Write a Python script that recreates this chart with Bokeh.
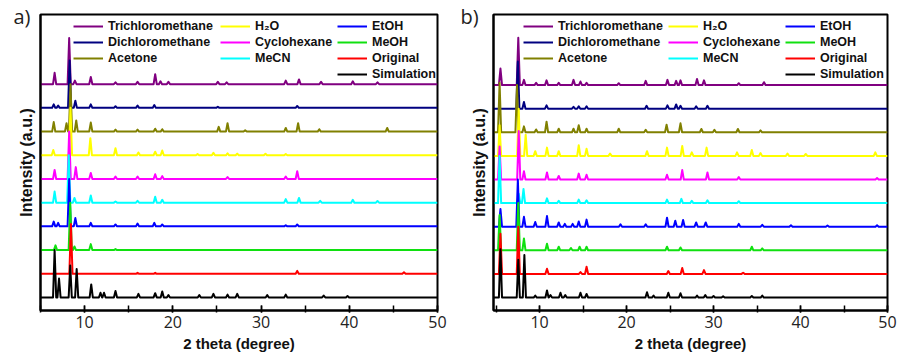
from bokeh.plotting import figure
from bokeh.layouts import row
from bokeh.models import (Legend, LegendItem, FixedTicker,
                          SingleIntervalTicker, Range1d)
from bokeh.embed import file_html
from bokeh.resources import INLINE

# ---------------- data (2theta, relative intensity; 1 unit = one stacking step) -------------
NAMES = ["Trichloromethane", "Dichloromethane", "Acetone", "H₂O", "Cyclohexane",
         "MeCN", "EtOH", "MeOH", "Original", "Simulation"]
COLORS = ["#800080", "#000080", "#808000", "#ffff00", "#ff00ff",
          "#00ffff", "#0000ff", "#10e010", "#ff0000", "#000000"]
OFFSETS = [9, 8, 7, 6, 5, 4, 3, 2, 1, 0]

# panel a) peaks: (2theta, height)
A_TRICHLORO = [(6.6, 0.48), (8.25, 1.95), (8.9, 0.15), (10.7, 0.3), (13.5, 0.08), (16.0, 0.1),
               (18.0, 0.42), (18.6, 0.12), (19.5, 0.1), (25.1, 0.1), (26.1, 0.08), (32.8, 0.15),
               (34.3, 0.2), (36.8, 0.1), (40.4, 0.12), (43.2, 0.08)]
A_DICHLORO = [(6.5, 0.15), (7.0, 0.1), (8.3, 2.0), (8.95, 0.3), (10.7, 0.15), (13.5, 0.07),
              (16.0, 0.1), (17.9, 0.12), (25.1, 0.05), (34.1, 0.08)]
A_ACETONE = [(6.5, 0.4), (7.95, 0.35), (8.4, 2.0), (9.05, 0.47), (10.7, 0.38), (13.5, 0.08),
             (16.0, 0.08), (18.0, 0.12), (18.8, 0.1), (25.2, 0.2), (26.2, 0.35), (28.2, 0.05),
             (32.8, 0.15), (34.2, 0.35), (36.6, 0.1), (44.3, 0.15)]
A_H2O = [(6.45, 0.22), (8.4, 2.0), (10.65, 0.72), (13.5, 0.3), (16.1, 0.12), (18.0, 0.15),
         (18.8, 0.2), (22.8, 0.05), (24.6, 0.1), (26.2, 0.08), (27.3, 0.07), (30.5, 0.06),
         (32.8, 0.05)]
A_CYCLOHEX = [(6.6, 0.38), (8.25, 2.0), (9.0, 0.5), (10.7, 0.25), (13.5, 0.1), (16.0, 0.1),
              (18.0, 0.2), (18.8, 0.12), (26.2, 0.08), (32.8, 0.1), (34.1, 0.33)]
A_MECN = [(6.6, 0.47), (8.2, 2.0), (8.85, 0.2), (10.7, 0.3), (13.5, 0.05), (16.0, 0.08),
          (18.0, 0.25), (18.8, 0.12), (32.8, 0.15), (34.3, 0.2), (36.7, 0.08), (40.4, 0.12),
          (43.2, 0.07)]
A_ETOH = [(6.5, 0.2), (7.0, 0.15), (8.25, 2.0), (8.95, 0.35), (10.7, 0.15), (13.5, 0.08),
          (16.0, 0.12), (17.9, 0.15), (18.8, 0.08), (32.8, 0.05), (34.1, 0.08)]
A_MEOH = [(6.7, 0.2), (8.37, 2.0), (8.85, 0.15), (10.7, 0.25), (13.5, 0.04)]
A_ORIGINAL = [(8.45, 2.1), (16.0, 0.04), (18.0, 0.04), (34.1, 0.12), (46.2, 0.06)]
A_SIMULATION = [(6.6, 2.0), (7.1, 0.8), (8.37, 1.35), (9.1, 1.2), (10.75, 0.55), (11.8, 0.2),
                (12.2, 0.2), (13.5, 0.27), (16.1, 0.15), (18.0, 0.18), (18.8, 0.25), (19.5, 0.1),
                (23.0, 0.1), (24.6, 0.15), (26.2, 0.12), (27.3, 0.15), (30.7, 0.1), (32.8, 0.12),
                (37.1, 0.08), (39.8, 0.06)]

# panel b) peaks: (2theta, height)
B_TRICHLORO = [(5.5, 0.7), (7.55, 2.0), (8.2, 0.22), (9.6, 0.1), (10.8, 0.2), (12.2, 0.1),
               (13.9, 0.22), (14.7, 0.15), (15.4, 0.1), (19.1, 0.08), (22.2, 0.18), (24.7, 0.22),
               (25.7, 0.18), (26.2, 0.2), (28.1, 0.26), (28.9, 0.2), (32.9, 0.08), (35.8, 0.12)]
B_DICHLORO = [(7.5, 2.0), (8.2, 0.28), (10.8, 0.14), (13.9, 0.08), (14.5, 0.1), (15.4, 0.1),
              (22.3, 0.12), (24.7, 0.14), (25.7, 0.18), (26.2, 0.12), (28.0, 0.1), (29.3, 0.12)]
B_ACETONE = [(5.4, 2.1), (7.4, 2.0), (8.2, 0.25), (9.6, 0.12), (10.8, 0.45), (12.2, 0.15),
             (13.9, 0.15), (14.5, 0.3), (15.4, 0.15), (19.1, 0.15), (22.2, 0.1), (24.6, 0.32),
             (26.2, 0.38), (28.6, 0.14), (30.1, 0.1), (32.8, 0.14), (35.4, 0.08)]
B_H2O = [(5.4, 1.3), (7.6, 2.0), (8.4, 0.9), (9.5, 0.2), (10.85, 0.35), (12.2, 0.2), (14.5, 0.45),
         (15.4, 0.3), (18.1, 0.1), (22.35, 0.2), (24.65, 0.35), (26.4, 0.42), (27.5, 0.15),
         (29.2, 0.35), (32.7, 0.15), (34.4, 0.25), (35.4, 0.12), (38.5, 0.1), (40.6, 0.08),
         (48.6, 0.15)]
B_CYCLOHEX = [(5.4, 1.4), (7.6, 2.05), (8.2, 0.35), (10.85, 0.3), (12.2, 0.15), (14.5, 0.25),
              (15.4, 0.2), (24.65, 0.2), (26.4, 0.4), (29.3, 0.3), (32.9, 0.1), (48.8, 0.06)]
B_MECN = [(5.4, 2.0), (7.6, 0.4), (8.15, 0.6), (10.85, 0.2), (12.2, 0.1), (14.5, 0.15),
          (15.4, 0.12), (24.65, 0.15), (26.3, 0.18), (27.5, 0.1), (29.3, 0.12), (32.9, 0.08)]
B_ETOH = [(5.5, 0.75), (7.5, 2.0), (8.2, 0.42), (9.5, 0.2), (10.85, 0.45), (12.2, 0.18),
          (12.9, 0.12), (13.8, 0.12), (14.5, 0.22), (15.4, 0.3), (19.3, 0.1), (22.2, 0.1),
          (24.65, 0.38), (25.6, 0.25), (26.5, 0.28), (28.0, 0.18), (29.1, 0.18), (32.9, 0.12),
          (35.6, 0.08), (38.9, 0.06), (43.1, 0.05), (48.8, 0.06)]
B_MEOH = [(5.4, 1.5), (7.55, 2.0), (8.2, 0.5), (10.85, 0.28), (12.2, 0.15), (13.6, 0.1),
          (14.6, 0.15), (15.4, 0.15), (24.65, 0.15), (26.2, 0.12), (34.4, 0.15), (35.6, 0.08)]
B_ORIGINAL = [(5.5, 1.7), (7.55, 2.0), (10.85, 0.22), (14.7, 0.08), (15.4, 0.3), (24.8, 0.12),
              (26.4, 0.25), (28.9, 0.16), (33.4, 0.05)]
B_SIMULATION = [(5.5, 2.05), (7.55, 1.6), (8.25, 1.8), (9.5, 0.08), (10.85, 0.3), (11.25, 0.1),
                (12.4, 0.2), (12.95, 0.1), (14.7, 0.2), (15.4, 0.15), (22.35, 0.22), (23.1, 0.08),
                (24.8, 0.2), (26.2, 0.18), (28.1, 0.08), (29.05, 0.1), (30.0, 0.06), (31.1, 0.05),
                (34.4, 0.06), (35.6, 0.08)]

PANEL_A = [A_TRICHLORO, A_DICHLORO, A_ACETONE, A_H2O, A_CYCLOHEX,
           A_MECN, A_ETOH, A_MEOH, A_ORIGINAL, A_SIMULATION]
PANEL_B = [B_TRICHLORO, B_DICHLORO, B_ACETONE, B_H2O, B_CYCLOHEX,
           B_MECN, B_ETOH, B_MEOH, B_ORIGINAL, B_SIMULATION]

X_END = 50
LEGEND_COLS = [[0, 1, 2], [3, 4, 5], [6, 7, 8, 9]]


def trace(peaks, offset, x0, x1, w=0.18):
    xs, ys = [x0], [offset]
    for p, h in sorted(peaks):
        xs += [p - w, p, p + w]
        ys += [offset, offset + h, offset]
    xs.append(x1)
    ys.append(offset)
    return xs, ys


def make_panel(peaks_sets, letter, x_start, y_top, border_left, legend_x, letter_offset):
    p = figure(width=450, height=360, output_backend="svg", toolbar_location=None,
               x_range=Range1d(x_start, X_END), y_range=Range1d(-0.55, y_top),
               min_border_left=border_left, min_border_right=13,
               min_border_top=14, min_border_bottom=50)
    p.grid.visible = False
    p.outline_line_color = "black"
    p.outline_line_width = 2
    p.background_fill_color = "white"
    p.border_fill_color = "white"

    renderers = []
    for peaks, off, col in zip(peaks_sets, OFFSETS, COLORS):
        xs, ys = trace(peaks, off, x_start, X_END)
        r = p.line(xs, ys, line_color=col, line_width=2, line_join="round")
        renderers.append(r)

    # legends (three columns)
    for ci, idxs in enumerate(LEGEND_COLS):
        items = [LegendItem(label=NAMES[i], renderers=[renderers[i]]) for i in idxs]
        n = len(idxs)
        height = n * 14 + (n - 1) * 2
        leg = Legend(items=items, location=(legend_x[ci], 296 - 5 - height),
                     orientation="vertical", glyph_width=30, glyph_height=14,
                     label_height=14, spacing=2, padding=0, margin=0,
                     label_standoff=5, label_text_font="Liberation Sans",
                     label_text_font_style="bold", label_text_font_size="12.5px",
                     label_text_color="#111111",
                     background_fill_alpha=0, border_line_color=None)
        p.add_layout(leg)

    xa = p.xaxis[0]
    xa.ticker = SingleIntervalTicker(interval=10, num_minor_ticks=2)
    xa.axis_label = "2 theta (degree)"
    xa.axis_label_text_font = "Liberation Sans"
    xa.axis_label_text_font_style = "bold"
    xa.axis_label_text_font_size = "15px"
    xa.axis_label_text_color = "#111111"
    xa.axis_label_standoff = 4
    xa.major_label_text_font = "Open Sans"
    xa.major_label_text_font_size = "16px"
    xa.major_label_text_color = "#222222"
    xa.major_label_standoff = 3
    xa.major_tick_in = 5
    xa.major_tick_out = 2
    xa.minor_tick_in = 5
    xa.minor_tick_out = 2
    xa.axis_line_width = 2
    xa.major_tick_line_width = 1.5
    xa.minor_tick_line_width = 1.5

    ya = p.yaxis[0]
    ya.ticker = FixedTicker(ticks=[])
    ya.axis_label = "Intensity (a.u.)"
    ya.axis_label_text_font = "Liberation Sans"
    ya.axis_label_text_font_style = "bold"
    ya.axis_label_text_font_size = "16px"
    ya.axis_label_text_color = "#111111"
    ya.axis_label_standoff = 6
    ya.major_tick_line_color = None
    ya.minor_tick_line_color = None
    ya.major_label_text_font_size = "0px"
    ya.axis_line_width = 2

    # panel letter as the figure title, pulled left of and down beside the frame
    p.title.text = letter
    p.title.align = "left"
    p.title.offset = letter_offset
    p.title.standoff = -30
    p.title.text_font = "Open Sans"
    p.title.text_font_style = "normal"
    p.title.text_font_size = "20px"
    p.title.text_color = "#222222"
    return p


pa = make_panel(PANEL_A, "a)", 5, 11.94, 40, [33, 180, 297], -27)
pb = make_panel(PANEL_B, "b)", 4.7, 11.99, 43, [30, 175, 292], -33)

layout = row(pa, pb, spacing=0)
open("out.html", "w").write(file_html(layout, INLINE))
